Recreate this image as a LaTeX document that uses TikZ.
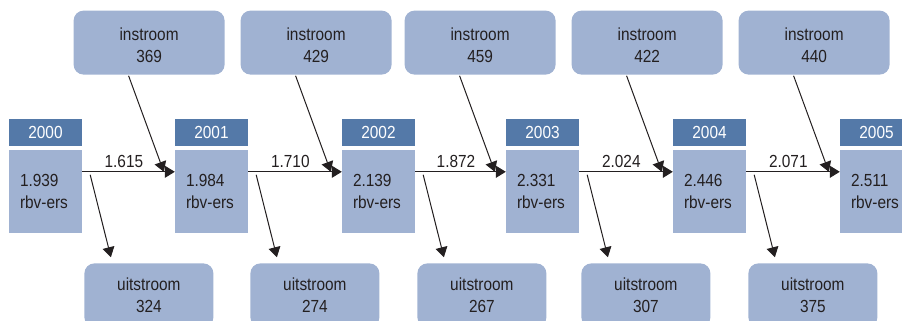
\documentclass[tikz,border=0pt]{standalone}
\usepackage{fontspec}
\setmainfont{Liberation Sans}[FakeStretch=0.88]
\usepackage{xcolor}
\usetikzlibrary{arrows.meta, positioning, calc}
\definecolor{jaarblauw}{HTML}{5479A8}
\definecolor{vakblauw}{HTML}{A0B2D2}
\definecolor{tekst}{HTML}{231F20}

\begin{document}
\begin{tikzpicture}[x=1pt, y=-1pt,
    every node/.style={font=\fontsize{17.5}{22}\selectfont, text=tekst},
    jaar/.style={fill=jaarblauw, text=white, minimum width=73pt, minimum height=27pt, inner sep=0pt},
    stand/.style={fill=vakblauw, minimum width=73pt, minimum height=83pt, text width=51pt, align=left, inner sep=0pt},
    stroom/.style={fill=vakblauw, rounded corners=10pt, minimum height=64pt, align=center, inner sep=0pt},
    pijl/.style={-{Triangle[length=10pt, width=12pt]}, line width=1pt, draw=tekst}]
    \useasboundingbox (0,0) rectangle (902,321);
    \clip (0,0) rectangle (902,321);
    % jaren en standen
    \foreach \x/\jr/\st [count=\i from 0] in {9/2000/1.939, 175/2001/1.984, 342/2002/2.139,
        506/2003/2.331, 673/2004/2.446, 840/2005/2.511} {
        \node[jaar] (j\i) at (\x+36.5, 132.5) {\jr};
        \node[stand] (s\i) at (\x+36.5, 191.5) {\st\\rbv-ers};
    }
    % stromen tussen de jaren
    \foreach \i/\inn/\uit/\over in {0/369/324/1.615, 1/429/274/1.710, 2/459/267/1.872,
        3/422/307/2.024, 4/440/375/2.071} {
        \pgfmathtruncatemacro\j{\i+1}
        \node[stroom, minimum width=151pt, text height=40pt, text depth=0pt,
            above left=44pt and -50pt of j\j.north west] (in\i) {instroom\\\inn};
        \node[stroom, minimum width=129pt, below right=30pt and 2pt of s\i.south east] (uit\i) {uitstroom\\\uit};
        \draw[pijl] ([yshift=-22pt]s\i.north east) -- node[above, pos=0.45, inner sep=4pt] {\over} ([yshift=-22pt]s\j.north west);
        \draw[pijl] ([xshift=-20.5pt, yshift=-1pt]in\i.south) -- ([xshift=-11pt, yshift=-22pt]s\j.north west);
        \draw[pijl] ([xshift=8pt, yshift=-25pt]s\i.north east) -- ([xshift=-38pt, yshift=6pt]uit\i.north);
    }
\end{tikzpicture}
\end{document}
